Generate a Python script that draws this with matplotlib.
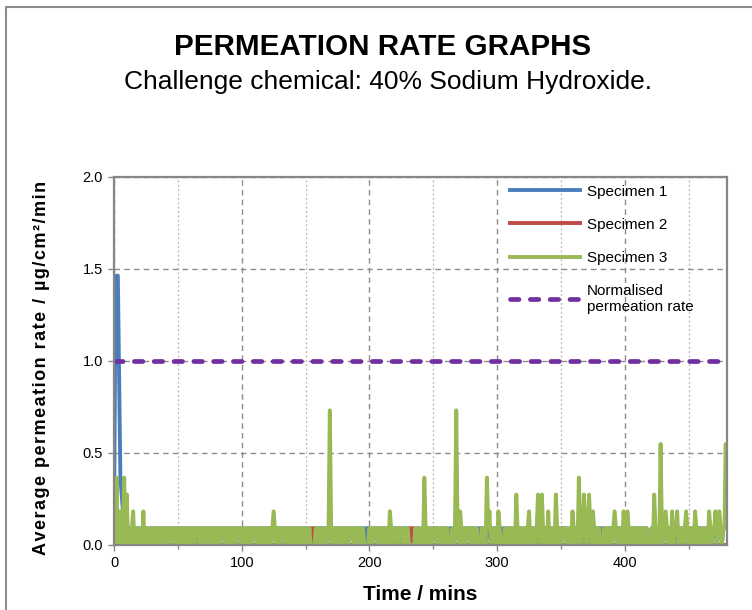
import numpy as np
import matplotlib.pyplot as plt
from matplotlib.lines import Line2D

plt.rcParams['font.family'] = ['Liberation Sans', 'DejaVu Sans']

# permeation readings, one per minute, as multiples of the detector step
# (base-36 digits so the blue spike fits in one character)
step = 0.0915

spec1_levels = (
    "1dgga43221" "2010110101" "0101011010" "1011010101" "0101110101" "0101011010"
    "1010111010" "1010101101" "0101011101" "0101010111" "0101010101" "1101010101"
    "1010111010" "1011101010" "1010110101" "0101000011" "0110101011" "1010110101"
    "0101011101" "0101011011" "1010111010" "1010101101" "0101110101" "1000001011"
    "0101101010" "1110101011" "0101010111" "0110101110" "1010110110" "1011101011"
    "0111011010" "1101011010" "1010110101" "0111011010" "1010101101" "0111010101"
    "1010110111" "0111011010" "1101101011" "0111010101" "1011011010" "1010110100"
    "0101101011" "0111010101" "1101010111" "0101011010" "1010101101" "1101110111" "1"
)

spec2_levels = (
    "0000000000" "0000000000" "0000000000" "0000000000" "0000000000" "0000000000"
    "0000000000" "0000000000" "0000000000" "0000000000" "0000000000" "0000000000"
    "0000000000" "0000000000" "0000000000" "0000101100" "0000000000" "0000000000"
    "0000000000" "0000000000" "0000000000" "0000000000" "0000000000" "0101100000"
    "0000000000" "0000000000" "0000000000" "0000000000" "0000000000" "0000000000"
    "0000000000" "0000000000" "0000000000" "0000000000" "0000000000" "0000000000"
    "0000000000" "0000000000" "0000000000" "0000000000" "0000000000" "0000000000"
    "0000000000" "0000000000" "0000000000" "0000000000" "0000000000" "0000000000" "0"
)

spec3_levels = (
    "1040120140" "3010120101" "0102011010" "1011010101" "0101110101" "0101011010"
    "1010111010" "1010101101" "0101011101" "0101010111" "0101010101" "1101010101"
    "1010121010" "1011101010" "1010110101" "0101000011" "0100101018" "1010110101"
    "0101011101" "0101010000" "1010111010" "1010102101" "0101110101" "1000001011"
    "0104101010" "1110101011" "0100010181" "0210101110" "1010100010" "1041201011"
    "0210001010" "1101031010" "1010120101" "0131031010" "2010103101" "0111010102"
    "1010410131" "0131021010" "1000101011" "0121010102" "1021011010" "1010110100"
    "0103101061" "0121010201" "1201010121" "0101021010" "1010102101" "1201210116" "1"
)

spec1 = np.array([int(c, 36) for c in spec1_levels]) * step
spec2 = np.array([int(c, 36) for c in spec2_levels]) * step
spec3 = np.array([int(c, 36) for c in spec3_levels]) * step
time = np.arange(len(spec3))

norm_time = [0, 480]
norm_rate = [1.0, 1.0]

blue = '#4A7EBB'
red = '#BE4B48'
green = '#98B954'
purple = '#7030A0'
grey = '#868686'

fig = plt.figure(figsize=(7.52, 6.10), dpi=100)
ax = fig.add_axes([114/752, 1-545/610, (727-114)/752, (545-177)/610])

ax.plot(time, spec1, color=blue, lw=2.8, solid_joinstyle='round', label='Specimen 1')
ax.plot(time, spec2, color=red, lw=2.8, solid_joinstyle='round', label='Specimen 2')
ax.plot(time, spec3, color=green, lw=2.8, solid_joinstyle='round', label='Specimen 3')
ax.plot(norm_time, norm_rate, color=purple, lw=3.4, dashes=(1.8, 2.4),
        dash_capstyle='round', label='Normalised\npermeation rate')

ax.set_xlim(0, 480)
ax.set_ylim(0, 2.0)
ax.set_xticks([0, 100, 200, 300, 400])
ax.set_xticks([50, 150, 250, 350, 450], minor=True)
ax.set_yticks([0.0, 0.5, 1.0, 1.5, 2.0])
ax.set_yticklabels(['0.0', '0.5', '1.0', '1.5', '2.0'])

ax.grid(which='major', axis='both', color='#8c8c8c', lw=1, ls=(0, (4, 3)))
ax.grid(which='minor', axis='x', color='#b4b4b4', lw=0.9, ls=(0, (1.5, 2)))
ax.set_axisbelow(True)

for s in ax.spines.values():
    s.set_color(grey)
    s.set_linewidth(1.6)
ax.tick_params(which='both', direction='out', color=grey, width=1, labelsize=10.5, pad=4)
ax.tick_params(which='major', length=4)
ax.tick_params(which='minor', length=3)

ax.set_xlabel('Time / mins', fontsize=15, fontweight='bold', labelpad=11)
ylab = '\u200a'.join('Average permeation rate / µg/cm²/min')
ax.set_ylabel(ylab, fontsize=13, fontweight='bold')
ax.yaxis.set_label_coords(-0.104, 0.482)

leg = ax.legend(loc='upper left', bbox_to_anchor=(0.646, 0.979), frameon=False,
                fontsize=11, handlelength=4.6, handletextpad=0.45,
                labelspacing=1.25, borderpad=0, borderaxespad=0)

fig.text(0.509, 1-55/610, 'PERMEATION RATE GRAPHS', ha='center', va='baseline',
         fontsize=21.3, fontweight='bold')
fig.text(0.516, 1-89/610, 'Challenge chemical: 40% Sodium Hydroxide.', ha='center',
         va='baseline', fontsize=19)

fig.add_artist(Line2D([6/752, 6/752, 1], [0, 1-7/610, 1-7/610], color='#8c8c8c', lw=1.5))

fig.savefig('out.png', dpi=100)
